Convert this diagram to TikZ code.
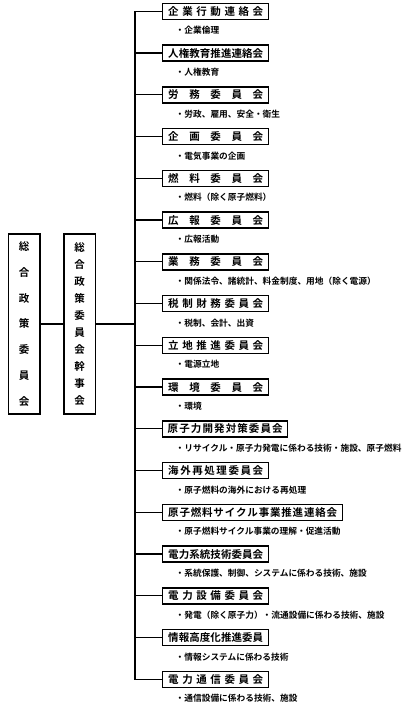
\documentclass[tikz,border=0pt]{standalone}
\usepackage{fontspec}
\setmainfont{Noto Sans CJK JP}[BoldFont={Noto Sans CJK JP Bold}]
\newcommand{\myspread}[2]{\makebox[#1][s]{#2}}
\begin{document}
\begin{tikzpicture}[x=1pt,y=-1pt,
  cbox/.style={draw,line width=1.4pt,anchor=west,minimum height=16pt,inner xsep=0pt,inner ysep=0pt,font=\bfseries\fontsize{10.5}{12}\selectfont},
  desc/.style={anchor=west,inner sep=0pt,font=\bfseries\fontsize{8.7}{10}\selectfont},
  vbox/.style={draw,line width=1.4pt,minimum width=31.5pt,minimum height=180pt,inner sep=0pt,align=center},
  conn/.style={line width=1.3pt}]
\useasboundingbox (0,0) rectangle (418,712);
\def\H{\hfill}
\def\bx#1#2#3#4{% index, boxwidth, textwidth, text
  \node[cbox,minimum width=#2pt] (c#1) at (162,{11.3+41.75*(#1-1)}) {\myspread{#3pt}{#4}};}
\def\ds#1#2{\node[desc] (d#1) at (175.5,{30.5+41.75*(#1-1)}) {#2};}
\bx{1}{106}{95}{企\H 業\H 行\H 動\H 連\H 絡\H 会}
\ds{1}{・企業倫理}
\bx{2}{106}{95}{人\H 権\H 教\H 育\H 推\H 進\H 連\H 絡\H 会}
\ds{2}{・人権教育}
\bx{3}{106}{95}{労\H 務\H 委\H 員\H 会}
\ds{3}{・労政、雇用、安全・衛生}
\bx{4}{106}{95}{企\H 画\H 委\H 員\H 会}
\ds{4}{・電気事業の企画}
\bx{5}{106}{95}{燃\H 料\H 委\H 員\H 会}
\ds{5}{・燃料（除く原子燃料）}
\bx{6}{106}{95}{広\H 報\H 委\H 員\H 会}
\ds{6}{・広報活動}
\bx{7}{106}{95}{業\H 務\H 委\H 員\H 会}
\ds{7}{・関係法令、諸統計、料金制度、用地（除く電源）}
\bx{8}{106}{95}{税\H 制\H 財\H 務\H 委\H 員\H 会}
\ds{8}{・税制、会計、出資}
\bx{9}{106}{95}{立\H 地\H 推\H 進\H 委\H 員\H 会}
\ds{9}{・電源立地}
\bx{10}{106}{95}{環\H 境\H 委\H 員\H 会}
\ds{10}{・環境}
\bx{11}{125}{115}{原\H 子\H 力\H 開\H 発\H 対\H 策\H 委\H 員\H 会}
\ds{11}{・リサイクル・原子力発電に係わる技術・施設、原子燃料}
\bx{12}{106}{95}{海\H 外\H 再\H 処\H 理\H 委\H 員\H 会}
\ds{12}{・原子燃料の海外における再処理}
\bx{13}{180}{169}{原\H 子\H 燃\H 料\H サ\H イ\H ク\H ル\H 事\H 業\H 推\H 進\H 連\H 絡\H 会}
\ds{13}{・原子燃料サイクル事業の理解・促進活動}
\bx{14}{106}{95}{電\H 力\H 系\H 統\H 技\H 術\H 委\H 員\H 会}
\ds{14}{・系統保護、制御、システムに係わる技術、施設}
\bx{15}{106}{95}{電\H 力\H 設\H 備\H 委\H 員\H 会}
\ds{15}{・発電（除く原子力）・流通設備に係わる技術、施設}
\bx{16}{106}{95}{情\H 報\H 高\H 度\H 化\H 推\H 進\H 委\H 員}
\ds{16}{・情報システムに係わる技術}
\bx{17}{106}{95}{電\H 力\H 通\H 信\H 委\H 員\H 会}
\ds{17}{・通信設備に係わる技術、施設}
% left boxes
\node[vbox,font=\bfseries\fontsize{10.5}{25.7}\selectfont] (b1) at (24.2,324) {総\\合\\政\\策\\委\\員\\会};
\node[vbox,font=\bfseries\fontsize{10.5}{17.1}\selectfont] (b2) at (79.6,324) {総\\合\\政\\策\\委\\員\\会\\幹\\事\\会};
\coordinate (bus) at (135,0);
\draw[conn] (b1.east) -- (b2.west);
\draw[conn] (b2.east) -- (b2.east -| bus);
\draw[conn] (c1.west) -| (bus |- c1.west) |- (c17.west);
\foreach \i in {2,...,16} {\draw[conn] (c\i.west) -- (c\i.west -| bus);}
\end{tikzpicture}
\end{document}
